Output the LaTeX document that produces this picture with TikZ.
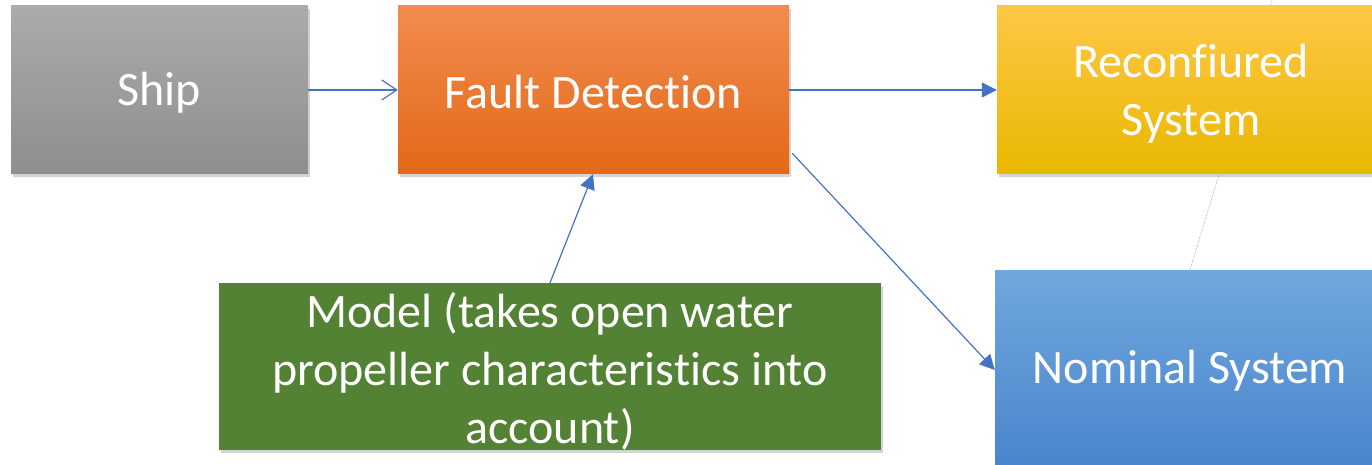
\documentclass[tikz,border=0pt]{standalone}
\usepackage{fontspec}
\setmainfont{Carlito}[Ligatures=NoCommon, RawFeature={-liga;-clig;-calt}]
\usetikzlibrary{arrows.meta,shadows,backgrounds}
\definecolor{linkblue}{HTML}{4472C4}
\tikzset{
  block/.style={rectangle, inner sep=0pt,
    drop shadow={opacity=0.35, shadow xshift=2pt, shadow yshift=-3pt}},
  label/.style={text=white, align=center, inner sep=0pt,
    font=\fontsize{48}{58}\selectfont},
  grayblock/.style={block, top color={rgb,255:red,171;green,171;blue,171}, bottom color={rgb,255:red,142;green,142;blue,142}},
  orangeblock/.style={block, top color={rgb,255:red,241;green,140;blue,78}, bottom color={rgb,255:red,227;green,104;blue,24}},
  yellowblock/.style={block, top color={rgb,255:red,255;green,199;blue,70}, bottom color={rgb,255:red,232;green,184;blue,0}},
  blueblock/.style={block, top color={rgb,255:red,112;green,167;blue,221}, bottom color={rgb,255:red,72;green,133;blue,204}},
  greenblock/.style={block, fill={rgb,255:red,84;green,130;blue,53}},
  link/.style={draw=linkblue, line width=1.2pt, -{Triangle[length=15pt,width=15pt]}},
  openlink/.style={draw=linkblue, line width=1.2pt, -{Straight Barb[length=15pt,width=20pt]}},
  guide/.style={draw=gray!50, line width=0.6pt, dash pattern=on 3pt off 1pt}
}
\begin{document}
\begin{tikzpicture}[x=1pt,y=-1pt]
\useasboundingbox (0,0) rectangle (1372,465);

% boxes
\node[grayblock, minimum width=297pt, minimum height=168pt] (ship) at (159.5,90) {};
\node[orangeblock, minimum width=391pt, minimum height=168pt] (fault) at (593.5,90) {};
\node[yellowblock, minimum width=390pt, minimum height=168pt] (reconf) at (1192,90) {};
\node[blueblock, minimum width=394pt, minimum height=200pt] (nominal) at (1192,370) {};
\node[greenblock, minimum width=662pt, minimum height=167pt] (model) at (550,366.5) {};

% box texts
\node[label] (shiptext) at (159.5,93) {Ship};
\node[label] (faulttext) at (593.5,92) {Fault Detection};
\node[label] (reconftext) at (1191,93.5) {Reconfiured\\System};
\node[label] (nominaltext) at (1190,371) {Nominal System};
\node[label] (modeltext) at (550,371)
  {Model (takes open water\\propeller characteristics into\\account)};

% faint guide line behind the right-hand boxes
\coordinate (guideend) at (1274,-6);
\begin{scope}[on background layer]
  \draw[guide] (nominal.north -| 1190,0) -- (guideend);
\end{scope}

% connectors
\draw[openlink] (ship.east) -- (fault.west);
\draw[link] (fault.east) -- (reconf.west |- fault.east);
\draw[link] (model.north -| 550,0) -- (fault.south -| 593,0);
\draw[link] (fault.south east) ++(3,-21) coordinate (fdout) (fdout) -- (nominal.west);
\end{tikzpicture}
\end{document}
